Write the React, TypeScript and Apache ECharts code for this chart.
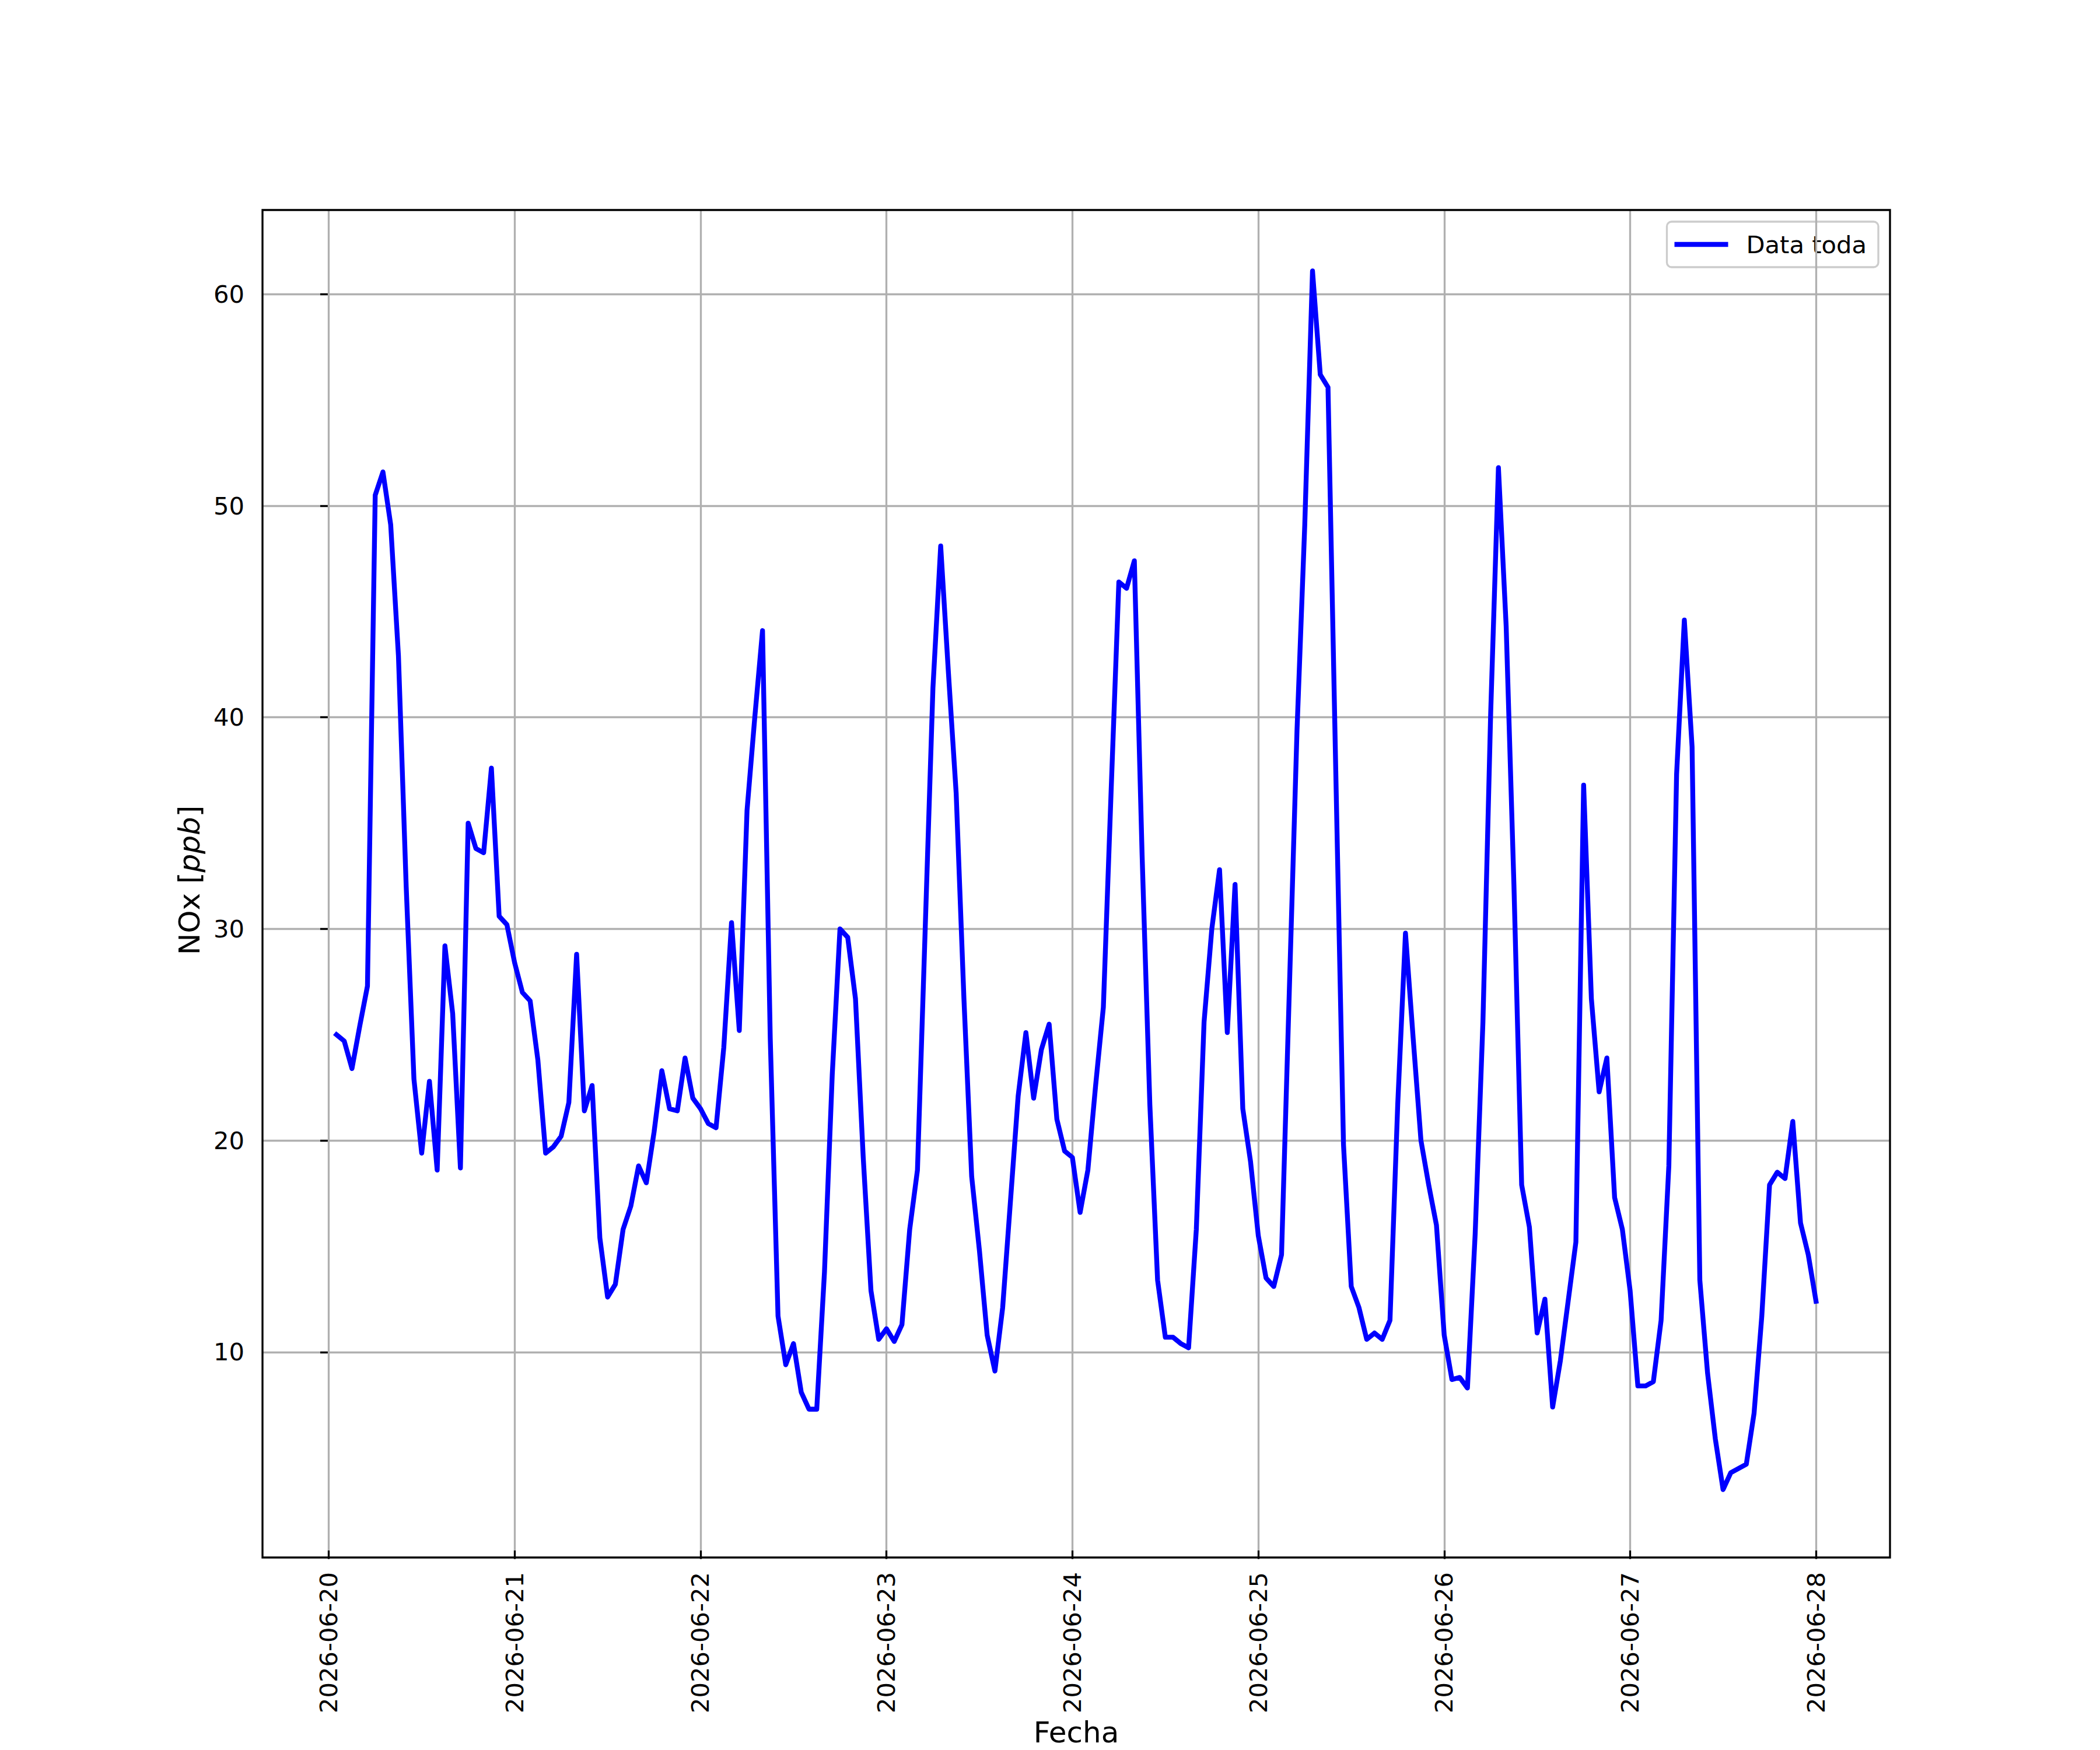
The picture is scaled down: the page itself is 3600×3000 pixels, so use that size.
import React, { useEffect, useRef } from "react";
import * as echarts from "echarts";

// Hourly NOx values [ppb], one array per day (01:00 .. 24:00 of each day)
const day20: number[] = [25.0, 24.7, 23.4, 25.4, 27.3, 50.5, 51.6, 49.1, 42.9, 32.0, 22.9, 19.4, 22.8, 18.6, 29.2, 26.0, 18.7, 35.0, 33.8, 33.6, 37.6, 30.6, 30.2, 28.4];
const day21: number[] = [27.0, 26.6, 23.8, 19.4, 19.7, 20.2, 21.8, 28.8, 21.4, 22.6, 15.4, 12.6, 13.2, 15.8, 16.9, 18.8, 18.0, 20.4, 23.3, 21.5, 21.4, 23.9, 22.0, 21.5];
const day22: number[] = [20.8, 20.6, 24.4, 30.3, 25.2, 35.6, 40.0, 44.1, 24.8, 11.7, 9.4, 10.4, 8.1, 7.3, 7.3, 13.8, 23.1, 30.0, 29.6, 26.7, 19.2, 12.9, 10.6, 11.1];
const day23: number[] = [10.5, 11.3, 15.8, 18.6, 30.0, 41.4, 48.1, 42.1, 36.4, 26.7, 18.3, 14.8, 10.8, 9.1, 12.1, 17.1, 22.1, 25.1, 22.0, 24.3, 25.5, 21.0, 19.5, 19.2];
const day24: number[] = [16.6, 18.6, 22.6, 26.3, 36.5, 46.4, 46.1, 47.4, 33.5, 21.7, 13.4, 10.7, 10.7, 10.4, 10.2, 15.8, 25.6, 30.0, 32.8, 25.1, 32.1, 21.5, 19.0, 15.5];
const day25: number[] = [13.5, 13.1, 14.6, 27.0, 39.4, 49.1, 61.1, 56.2, 55.6, 37.5, 19.8, 13.1, 12.1, 10.6, 10.9, 10.6, 11.5, 21.7, 29.8, 24.8, 20.0, 17.9, 16.0, 10.8];
const day26: number[] = [8.7, 8.8, 8.3, 15.6, 25.6, 40.2, 51.8, 44.3, 32.1, 17.9, 15.9, 10.9, 12.5, 7.4, 9.6, 12.4, 15.2, 36.8, 26.7, 22.3, 23.9, 17.3, 15.8, 12.9];
const day27: number[] = [8.4, 8.4, 8.6, 11.5, 18.8, 37.3, 44.6, 38.6, 13.4, 9.0, 5.9, 3.5, 4.3, 4.5, 4.7, 7.1, 11.7, 17.9, 18.5, 18.2, 20.9, 16.1, 14.6, 12.4];

const seriesName = "Data toda";
// x axis: hours since 2026-06-20 00:00 (UTC)
const originUTC = Date.UTC(2026, 5, 20, 0, 0, 0);
const firstHour = 1;
const dayTickHours: number[] = [0, 24, 48, 72, 96, 120, 144, 168, 192];
const yTicks: number[] = [10, 20, 30, 40, 50, 60];

const FONT = "DejaVu Sans";
const HOUR_MS = 3600 * 1000;

export default function App() {
  const ref = useRef<HTMLDivElement>(null);

  useEffect(() => {
    if (!ref.current) return;
    const chart = echarts.init(ref.current, null, { renderer: "svg" });
    const values = [...day20, ...day21, ...day22, ...day23, ...day24, ...day25, ...day26, ...day27];
    const data = values.map((v, i) => [firstHour + i, v]);
    const first = firstHour;
    const last = firstHour + values.length - 1;
    const xPad = (last - first) * 0.05;
    const vMin = Math.min(...values);
    const vMax = Math.max(...values);
    const yPad = (vMax - vMin) * 0.05;

    const gl = 450, gr = 360, gt = 360, gb = 330;

    chart.setOption({
      animation: false,
      backgroundColor: "#ffffff",
      grid: {
        left: gl, right: gr, top: gt, bottom: gb,
        containLabel: false,
        show: false,
      },
      legend: {
        show: true,
        right: 380,
        top: 380,
        padding: [18, 20, 18, 13],
        icon: "rect",
        itemWidth: 92,
        itemHeight: 8.33,
        itemGap: 0,
        itemStyle: { color: "#0000ff", borderWidth: 0 },
        backgroundColor: "rgba(255,255,255,0.8)",
        borderColor: "#cccccc",
        borderWidth: 3.33,
        borderRadius: 8,
        textStyle: { fontFamily: FONT, fontSize: 41.67, color: "#000000", padding: [0, 0, 0, 26] },
        data: [{ name: seriesName, icon: "rect" }],
      },
      xAxis: {
        type: "value",
        min: first - xPad,
        max: last + xPad,
        name: "Fecha",
        nameLocation: "middle",
        nameGap: 286,
        nameTextStyle: { fontFamily: FONT, fontSize: 50, color: "#000000" },
        axisLine: { show: false },
        axisTick: {
          show: true,
          inside: false,
          length: 14.6,
          lineStyle: { color: "#000000", width: 3.33 },
          customValues: dayTickHours,
        },
        axisLabel: {
          show: true,
          rotate: 90,
          margin: 37,
          fontFamily: FONT,
          fontSize: 41.67,
          color: "#000000",
          customValues: dayTickHours,
          formatter: (v: number) => new Date(originUTC + v * HOUR_MS).toISOString().slice(0, 10),
        },
        splitLine: { show: false },
      },
      yAxis: {
        type: "value",
        min: vMin - yPad,
        max: vMax + yPad,
        splitNumber: 6,
        name: "NOx [{i|ppb}]",
        nameLocation: "middle",
        nameRotate: 90,
        nameGap: 100,
        nameTextStyle: {
          fontFamily: FONT,
          fontSize: 50,
          color: "#000000",
          rich: { i: { fontFamily: FONT, fontSize: 50, fontStyle: "italic", color: "#000000" } },
        },
        axisLine: { show: false },
        axisTick: {
          show: true,
          inside: false,
          length: 14.6,
          lineStyle: { color: "#000000", width: 3.33 },
          customValues: yTicks,
        },
        axisLabel: {
          show: true,
          margin: 31,
          fontFamily: FONT,
          fontSize: 41.67,
          color: "#000000",
          customValues: yTicks,
          formatter: (v: number) => String(Math.round(v)),
        },
        splitLine: { show: true, lineStyle: { color: "#b0b0b0", width: 3.33 } },
      },
      series: [
        {
          name: "grid-x",
          type: "line",
          data: [],
          z: 1,
          silent: true,
          markLine: {
            silent: true,
            symbol: "none",
            animation: false,
            label: { show: false },
            lineStyle: { color: "#b0b0b0", width: 3.33, type: "solid" },
            emphasis: { disabled: true },
            data: dayTickHours.map((h) => ({ xAxis: h })),
          },
        },
        {
          name: seriesName,
          type: "line",
          data,
          symbol: "none",
          showSymbol: false,
          z: 5,
          lineStyle: { color: "#0000ff", width: 8.33, join: "round", cap: "square" },
          itemStyle: { color: "#0000ff" },
        },
      ],
      graphic: [
        {
          type: "rect",
          z: 100,
          silent: true,
          shape: { x: gl, y: gt, width: 3600 - gl - gr, height: 3000 - gt - gb },
          style: { fill: "none", stroke: "#000000", lineWidth: 3.33 },
        },
      ],
    });

    return () => chart.dispose();
  }, []);

  return (
    <div
      ref={ref}
      style={{ position: "absolute", left: 0, top: 0, width: 3600, height: 3000, background: "#ffffff" }}
    />
  );
}
